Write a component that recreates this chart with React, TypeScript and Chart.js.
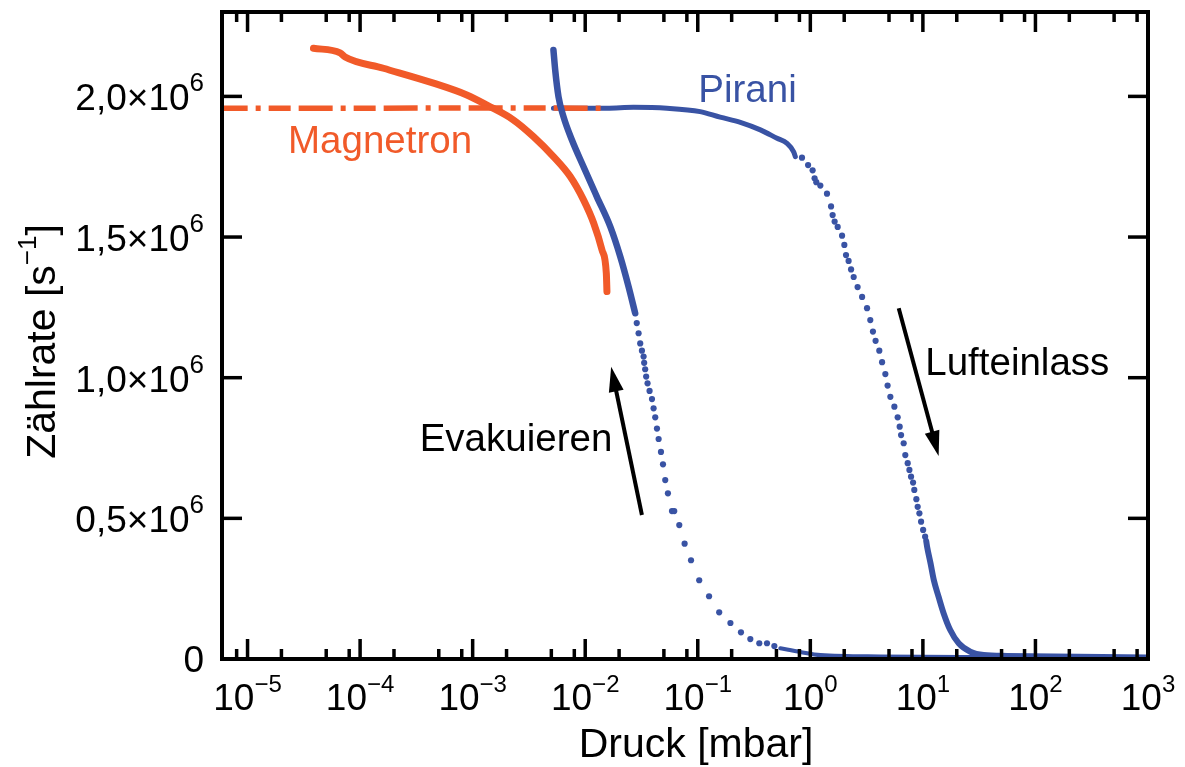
import React, { useEffect, useRef } from "react";
import { Chart, registerables } from "chart.js";

Chart.register(...registerables);

const ORANGE = "#F15A29";
const BLUE = "#3953A4";
const FONT = "'Liberation Sans', Arial, Helvetica, sans-serif";

// ---------- data (pressure in mbar, count rate in 10^6 s^-1) ----------
// Magnetron gauge, baseline reading (dashed)
const magFlatP = [5.0e-6, 1.0e-4, 1.0e-3, 1.56e-2];
const magFlatR = [1.958, 1.958, 1.959, 1.958];

// Magnetron gauge, evacuation
const magEvacP = [3.85e-5, 6.64e-5, 7.36e-5, 1.61e-4, 4.49e-4, 8.87e-4, 1.34e-3, 2.31e-3, 3.47e-3, 5.22e-3, 7.36e-3, 9.66e-3, 1.19e-2, 1.41e-2, 1.54e-2, 1.56e-2];
const magEvacR = [2.171, 2.155, 2.14, 2.1, 2.047, 2.005, 1.969, 1.916, 1.857, 1.786, 1.715, 1.632, 1.549, 1.454, 1.371, 1.306];

// Pirani gauge, evacuation (dense part)
const pirEvacP = [5.22e-3, 5.41e-3, 5.79e-3, 6.41e-3, 7.62e-3, 9.66e-3, 1.27e-2, 1.67e-2, 2.05e-2, 2.43e-2, 2.78e-2];
const pirEvacR = [2.165, 2.094, 1.999, 1.928, 1.845, 1.75, 1.643, 1.537, 1.43, 1.323, 1.229];

// Pirani gauge, evacuation (single samples)
const pirEvacDotP = [2.87e-2, 2.98e-2, 3.08e-2, 3.19e-2, 3.3e-2, 3.34e-2, 3.41e-2, 3.48e-2, 3.58e-2, 3.73e-2, 3.92e-2, 4.05e-2, 4.19e-2, 4.34e-2, 4.49e-2, 4.71e-2, 4.91e-2, 5.14e-2, 5.43e-2, 5.9e-2, 6.18e-2, 6.85e-2, 7.64e-2, 8.71e-2, 0.103, 0.126, 0.155, 0.195, 0.242, 0.293, 0.352, 0.412, 0.479];
const pirEvacDotR = [1.194, 1.158, 1.122, 1.096, 1.075, 1.053, 1.03, 1.004, 0.98, 0.953, 0.924, 0.891, 0.859, 0.819, 0.782, 0.736, 0.692, 0.636, 0.589, 0.526, 0.526, 0.476, 0.41, 0.351, 0.28, 0.223, 0.166, 0.128, 0.095, 0.071, 0.056, 0.056, 0.046];

// Pirani gauge, evacuation (high-pressure tail)
const pirEvacTailP = [0.541, 0.815, 1.23, 4.19, 48.9, 1000];
const pirEvacTailR = [0.038, 0.025, 0.014, 0.009, 0.007, 0.005];

// Pirani gauge, air inlet (dense part)
const pirInletP = [5.22e-3, 1.56e-2, 2.69e-2, 5.32e-2, 0.105, 0.158, 0.239, 0.36, 0.506, 0.621, 0.711, 0.736];
const pirInletR = [1.958, 1.958, 1.961, 1.958, 1.946, 1.926, 1.908, 1.881, 1.851, 1.833, 1.803, 1.786];

// Pirani gauge, air inlet (single samples)
const pirInletDotP = [0.843, 0.955, 1.048, 1.091, 1.13, 1.227, 1.406, 1.528, 1.578, 1.644, 1.75, 1.914, 2.005, 2.075, 2.188, 2.301, 2.427, 2.63, 2.884, 3.19, 3.41, 3.6, 3.8, 4.1, 4.34, 4.64, 4.86, 5.14, 5.58, 5.97, 6.22, 6.4, 6.75, 6.98, 7.33, 7.59, 7.85, 8.18, 8.39, 8.75, 8.99, 9.31, 9.64, 10.05, 10.47];
const pirInletDotR = [1.782, 1.756, 1.737, 1.709, 1.695, 1.683, 1.654, 1.609, 1.578, 1.555, 1.536, 1.505, 1.472, 1.436, 1.415, 1.385, 1.358, 1.322, 1.287, 1.247, 1.205, 1.164, 1.131, 1.096, 1.055, 1.013, 0.972, 0.932, 0.897, 0.859, 0.826, 0.796, 0.767, 0.725, 0.696, 0.672, 0.648, 0.627, 0.601, 0.568, 0.541, 0.518, 0.488, 0.459, 0.435];

// Pirani gauge, air inlet (dense end)
const pirInletEndP = [10.7, 10.9, 11.7, 12.5, 13.8, 15.3, 17.5, 20.8, 26.4, 34.7, 56.0, 1000];
const pirInletEndR = [0.42, 0.399, 0.34, 0.281, 0.221, 0.162, 0.103, 0.056, 0.026, 0.014, 0.011, 0.005];

// ---------- axes ----------
const xMin = 5.93e-6;
const xMax = 1000;
const yMin = 0;
const yMax = 2.3;
const xMajorExps = [-5, -4, -3, -2, -1, 0, 1, 2, 3];
const xMinorExps = [-6, -5, -4, -3, -2, -1, 0, 1, 2];
const xMinorFactors = [2, 5, 8];
const yTicks = [0, 0.5, 1.0, 1.5, 2.0];
const yTickMantissa = ["0", "0,5", "1,0", "1,5", "2,0"];
const xTitle = "Druck [mbar]";
const yTitle = "Zählrate [s";
const yTitleExp = "−1";

// ---------- annotations (data coordinates) ----------
const labelPirani = { text: "Pirani", p: 0.101, r: 1.981 };
const labelMagnetron = { text: "Magnetron", p: 2.29e-5, r: 1.799 };
const labelEvak = { text: "Evakuieren", p: 1.74e-2, r: 0.739 };
const labelInlet = { text: "Lufteinlass", p: 10.5, r: 1.01 };
const arrowEvak = { p0: 3.19e-2, r0: 0.512, p1: 1.7e-2, r1: 1.039 };
const arrowInlet = { p0: 6.1, r0: 1.247, p1: 13.8, r1: 0.722 };

const zip = (xs: number[], ys: number[]) => xs.map((x, i) => ({ x, y: ys[i] }));

function drawPow(ctx: CanvasRenderingContext2D, base: string, exp: string, x: number, baseY: number, align: "center" | "right", expRise: number, expSize: number) {
  ctx.font = `37px ${FONT}`;
  const wb = ctx.measureText(base).width;
  ctx.font = `${expSize}px ${FONT}`;
  const we = ctx.measureText(exp).width;
  const total = wb + we;
  const start = align === "center" ? x - total / 2 : x - total;
  ctx.textAlign = "left";
  ctx.textBaseline = "alphabetic";
  ctx.font = `37px ${FONT}`;
  ctx.fillText(base, start, baseY);
  ctx.font = `${expSize}px ${FONT}`;
  ctx.fillText(exp, start + wb, baseY - expRise);
}

function drawArrow(ctx: CanvasRenderingContext2D, x0: number, y0: number, x1: number, y1: number) {
  const dx = x1 - x0;
  const dy = y1 - y0;
  const len = Math.hypot(dx, dy);
  const ux = dx / len;
  const uy = dy / len;
  const headLen = 25;
  const headHalf = 7.5;
  const bx = x1 - ux * headLen;
  const by = y1 - uy * headLen;
  ctx.strokeStyle = "#000";
  ctx.fillStyle = "#000";
  ctx.lineWidth = 4;
  ctx.beginPath();
  ctx.moveTo(x0, y0);
  ctx.lineTo(bx + ux * 2, by + uy * 2);
  ctx.stroke();
  ctx.beginPath();
  ctx.moveTo(x1, y1);
  ctx.lineTo(bx - uy * headHalf, by + ux * headHalf);
  ctx.lineTo(bx + uy * headHalf, by - ux * headHalf);
  ctx.closePath();
  ctx.fill();
}

const framePlugin = {
  id: "frameAndLabels",
  afterDraw(chart: any) {
    const { ctx, chartArea: a, scales } = chart;
    const xs = scales.x;
    const ys = scales.y;
    ctx.save();
    ctx.strokeStyle = "#000";
    ctx.fillStyle = "#000";
    ctx.lineCap = "butt";

    const seg = (x0: number, y0: number, x1: number, y1: number) => {
      ctx.beginPath();
      ctx.moveTo(x0, y0);
      ctx.lineTo(x1, y1);
      ctx.stroke();
    };
    ctx.lineWidth = 3.5;
    for (const e of xMajorExps) {
      const px = xs.getPixelForValue(Math.pow(10, e));
      seg(px, a.bottom, px, a.bottom - 20);
      seg(px, a.top, px, a.top + 20);
    }
    for (const e of xMinorExps) {
      for (const f of xMinorFactors) {
        const v = f * Math.pow(10, e);
        if (v <= xMin || v >= xMax) continue;
        const px = xs.getPixelForValue(v);
        seg(px, a.bottom, px, a.bottom - 10);
        seg(px, a.top, px, a.top + 10);
      }
    }
    for (const t of yTicks) {
      const py = ys.getPixelForValue(t);
      seg(a.left, py, a.left + 20, py);
      seg(a.right, py, a.right - 20, py);
    }

    ctx.lineWidth = 4;
    ctx.strokeRect(a.left, a.top, a.right - a.left, a.bottom - a.top);

    for (const e of xMajorExps) {
      const px = xs.getPixelForValue(Math.pow(10, e));
      const expText = e < 0 ? "−" + Math.abs(e) : String(e);
      drawPow(ctx, "10", expText, px, a.bottom + 51, "center", 18, 24);
    }

    yTicks.forEach((t, i) => {
      const py = ys.getPixelForValue(t);
      if (t === 0) {
        ctx.font = `37px ${FONT}`;
        ctx.textAlign = "right";
        ctx.textBaseline = "alphabetic";
        ctx.fillText("0", 204, py + 13);
      } else {
        drawPow(ctx, yTickMantissa[i] + "×10", "6", 204, py + 14, "right", 19, 26);
      }
    });

    // axis titles
    const titleSize = 41;
    ctx.font = `${titleSize}px ${FONT}`;
    ctx.textAlign = "center";
    ctx.textBaseline = "alphabetic";
    ctx.fillText(xTitle, (a.left + a.right) / 2 + 11, 757);

    ctx.save();
    ctx.translate(55, (a.top + a.bottom) / 2 + 6);
    ctx.rotate(-Math.PI / 2);
    ctx.font = `${titleSize}px ${FONT}`;
    const w1 = ctx.measureText(yTitle).width;
    ctx.font = `26px ${FONT}`;
    const w2 = ctx.measureText(yTitleExp).width;
    ctx.font = `${titleSize}px ${FONT}`;
    const w3 = ctx.measureText("]").width;
    const tot = w1 + w2 + w3;
    let sx = -tot / 2;
    ctx.textAlign = "left";
    ctx.fillText(yTitle, sx, 0);
    sx += w1;
    ctx.font = `26px ${FONT}`;
    ctx.fillText(yTitleExp, sx, -19);
    sx += w2;
    ctx.font = `${titleSize}px ${FONT}`;
    ctx.fillText("]", sx, 0);
    ctx.restore();

    // annotations
    ctx.font = `38.5px ${FONT}`;
    ctx.textBaseline = "alphabetic";
    ctx.textAlign = "left";
    ctx.fillStyle = BLUE;
    ctx.fillText(labelPirani.text, xs.getPixelForValue(labelPirani.p), ys.getPixelForValue(labelPirani.r));
    ctx.fillStyle = ORANGE;
    ctx.fillText(labelMagnetron.text, xs.getPixelForValue(labelMagnetron.p), ys.getPixelForValue(labelMagnetron.r));
    ctx.fillStyle = "#000";
    ctx.textAlign = "right";
    ctx.fillText(labelEvak.text, xs.getPixelForValue(labelEvak.p), ys.getPixelForValue(labelEvak.r));
    ctx.textAlign = "left";
    ctx.fillText(labelInlet.text, xs.getPixelForValue(labelInlet.p), ys.getPixelForValue(labelInlet.r));

    drawArrow(ctx, xs.getPixelForValue(arrowEvak.p0), ys.getPixelForValue(arrowEvak.r0), xs.getPixelForValue(arrowEvak.p1), ys.getPixelForValue(arrowEvak.r1));
    drawArrow(ctx, xs.getPixelForValue(arrowInlet.p0), ys.getPixelForValue(arrowInlet.r0), xs.getPixelForValue(arrowInlet.p1), ys.getPixelForValue(arrowInlet.r1));

    ctx.restore();
  },
};

export default function App() {
  const ref = useRef<HTMLCanvasElement | null>(null);

  useEffect(() => {
    if (!ref.current) return;
    const lineDs = (label: string, data: any[], color: string, width: number, order: number, extra: any = {}) => ({
      label,
      data,
      borderColor: color,
      backgroundColor: color,
      borderWidth: width,
      pointRadius: 0,
      showLine: true,
      fill: false,
      borderCapStyle: "round",
      borderJoinStyle: "round",
      cubicInterpolationMode: "monotone",
      order,
      ...extra,
    });
    const dotDs = (label: string, data: any[], color: string, order: number) => ({
      label,
      data,
      showLine: false,
      pointRadius: 3.1,
      pointBorderWidth: 0,
      pointBackgroundColor: color,
      pointBorderColor: color,
      order,
    });

    const chart = new Chart(ref.current, {
      type: "scatter",
      data: {
        datasets: [
          lineDs("Pirani Evakuieren", zip(pirEvacP, pirEvacR), BLUE, 6.5, 1),
          lineDs("Magnetron Basis", zip(magFlatP, magFlatR), ORANGE, 5.5, 2, { borderDash: [34, 8, 5, 8, 22, 8], borderCapStyle: "butt", cubicInterpolationMode: "default" }),
          lineDs("Magnetron Evakuieren", zip(magEvacP, magEvacR), ORANGE, 7, 3),
          lineDs("Pirani Lufteinlass", zip(pirInletP, pirInletR), BLUE, 5, 4),
          dotDs("Pirani Evakuieren Punkte", zip(pirEvacDotP, pirEvacDotR), BLUE, 5),
          lineDs("Pirani Evakuieren Rest", zip(pirEvacTailP, pirEvacTailR), BLUE, 4, 6),
          dotDs("Pirani Lufteinlass Punkte", zip(pirInletDotP, pirInletDotR), BLUE, 7),
          lineDs("Pirani Lufteinlass Ende", zip(pirInletEndP, pirInletEndR), BLUE, 6, 8),
        ] as any,
      },
      options: {
        animation: false,
        responsive: false,
        devicePixelRatio: 1,
        events: [],
        layout: { padding: { left: 222, right: 37, top: 12, bottom: 108 } },
        plugins: { legend: { display: false }, tooltip: { enabled: false } },
        scales: {
          x: { type: "logarithmic", min: xMin, max: xMax, display: false },
          y: { type: "linear", min: yMin, max: yMax, display: false },
        },
      } as any,
      plugins: [framePlugin],
    });
    return () => chart.destroy();
  }, []);

  return (
    <div style={{ position: "fixed", left: 0, top: 0, width: 1185, height: 767, background: "#fff" }}>
      <canvas ref={ref} width={1185} height={767} style={{ width: 1185, height: 767, display: "block" }} />
    </div>
  );
}
